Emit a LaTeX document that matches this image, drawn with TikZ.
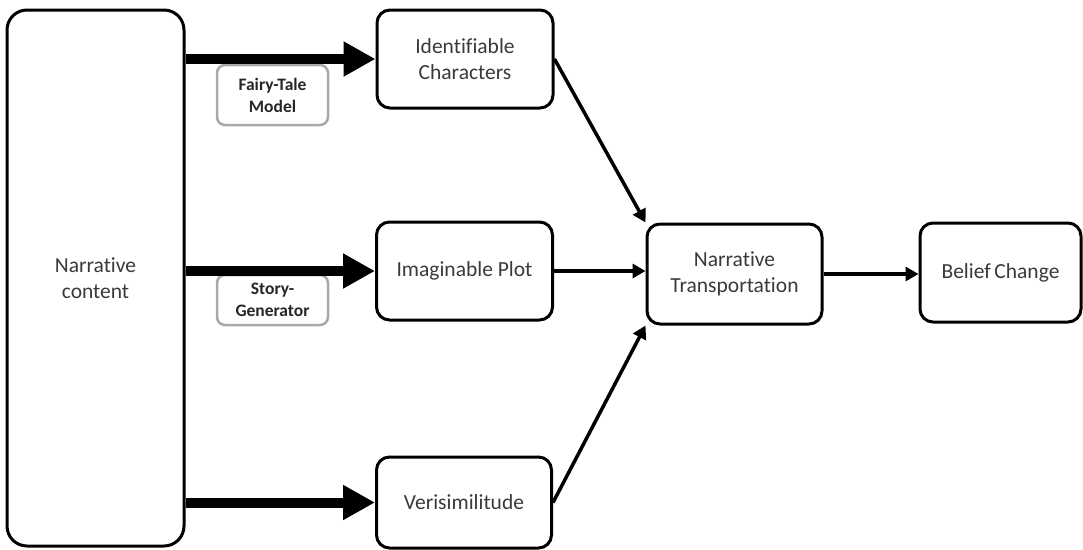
\documentclass[tikz,border=0pt]{standalone}
\usepackage{fontspec}
\setmainfont{Carlito}[Ligatures={NoCommon}]
\usetikzlibrary{arrows.meta}

\definecolor{txt}{HTML}{3A3A3A}
\definecolor{tagline}{HTML}{A8A8A8}

\tikzset{
  box/.style={draw=black, line width=3pt, rounded corners=13pt, fill=white,
    align=center, text=txt, inner sep=0pt,
    font=\fontsize{21.5}{26}\selectfont},
  tag/.style={draw=tagline, line width=2.5pt, rounded corners=8pt, fill=white,
    align=center, text=black!85, inner sep=0pt,
    minimum width=111pt, font=\bfseries\fontsize{17.5}{22}\selectfont},
  heavy/.style={line width=10pt, -{Triangle[length=32pt,width=33pt]}},
  link/.style={line width=3.5pt, -{Triangle[length=13pt,width=14pt]}},
}

\begin{document}
\begin{tikzpicture}[x=1pt, y=-1pt]
  \useasboundingbox (0,0) rectangle (1083,549);

  % source block
  \node[box, rounded corners=20pt, minimum width=177pt, minimum height=536pt]
    (nc) at (95.5,278) {Narrative\\content};

  % three story factors
  \node[box, minimum width=176pt, minimum height=98pt] (ic) at (465,59)
    {Identifiable\\Characters};
  \node[box, minimum width=176pt, minimum height=98pt] (ip) at (464.5,271)
    {Imaginable Plot};
  \node[box, minimum width=175pt, minimum height=91pt] (vs) at (464,502.5)
    {Verisimilitude};

  % outcome chain
  \node[box, minimum width=175pt, minimum height=100pt] (nt) at (734.5,274)
    {Narrative\\Transportation};
  \node[box, minimum width=161pt, minimum height=99pt] (bc) at (1000.5,272.5)
    {Belief\,Change};

  % method tags under the heavy arrows
  \node[tag, minimum height=60pt] (ft) at (272.5,95) {Fairy-Tale\\Model};
  \node[tag, minimum height=50pt] (sg) at (272.5,300) {Story-\\Generator};

  % heavy arrows from the source
  \draw[heavy] (nc.east |- ic.west) -- (ic.west);
  \draw[heavy] (nc.east |- ip.west) -- (ip.west);
  \draw[heavy] (nc.east |- vs.west) -- (vs.west);

  % factor links
  \draw[link] (ic.east) -- (nt.north west);
  \draw[link] (ip.east) -- (ip.east -| nt.west);
  \draw[link] (vs.east) -- (nt.south west);
  \draw[link] (nt.east) -- (nt.east -| bc.west);
\end{tikzpicture}
\end{document}
